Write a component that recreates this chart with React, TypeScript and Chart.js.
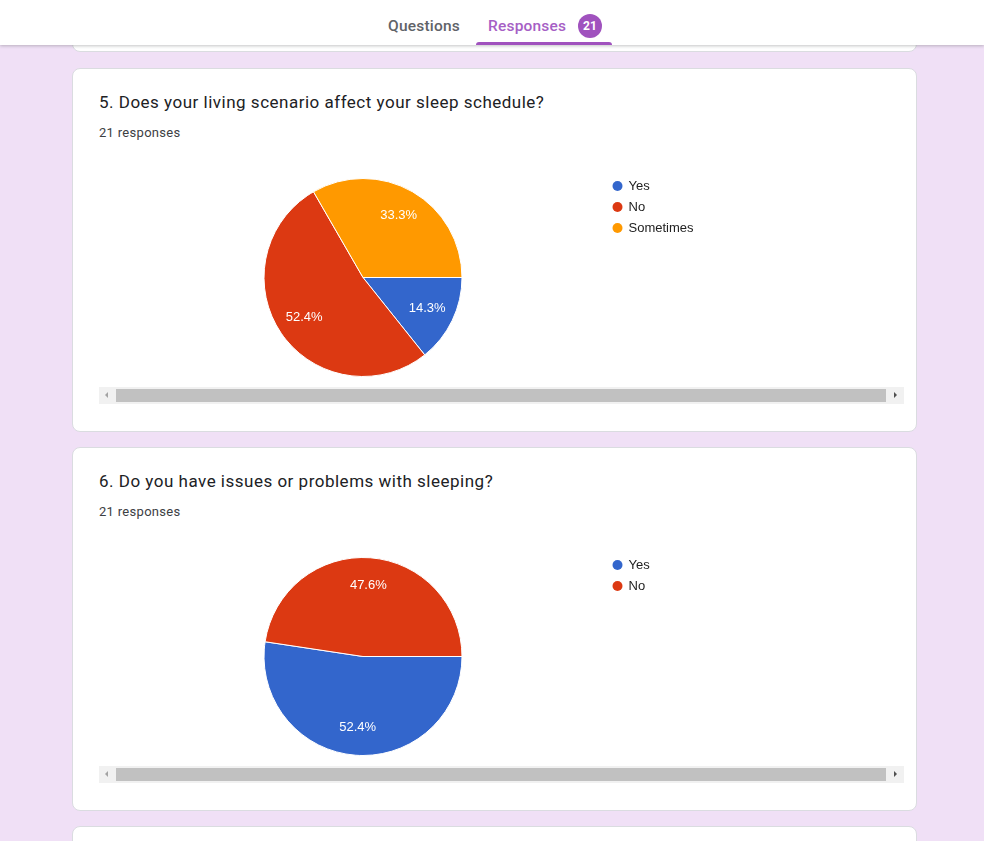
import * as React from 'react';
import {useRef, useEffect} from 'react';
import {Chart, registerables} from 'chart.js';

Chart.register(...registerables);

// question 5
const q5Title = '5. Does your living scenario affect your sleep schedule?';
const q5Labels = ['Yes', 'No', 'Sometimes'];
const q5Counts = [3, 11, 7];

// question 6
const q6Title = '6. Do you have issues or problems with sleeping?';
const q6Labels = ['Yes', 'No'];
const q6Counts = [11, 10];

const responseCount = 21;
const sliceColors = ['#3366cc', '#dc3912', '#ff9900'];

const chartFont = '13px "Liberation Sans", Arial, sans-serif';

// percentage text inside each slice
const sliceLabels = {
  id: 'sliceLabels',
  afterDatasetsDraw(chart: any) {
    const ctx = chart.ctx;
    const values = chart.data.datasets[0].data as number[];
    const total = values.reduce((a, b) => a + b, 0);
    ctx.save();
    ctx.font = chartFont;
    ctx.fillStyle = '#ffffff';
    ctx.textAlign = 'center';
    ctx.textBaseline = 'middle';
    chart.getDatasetMeta(0).data.forEach((arc: any, i: number) => {
      const {x, y, startAngle, endAngle, outerRadius} = arc.getProps(['x', 'y', 'startAngle', 'endAngle', 'outerRadius'], true);
      const mid = (startAngle + endAngle) / 2;
      const r = outerRadius * 0.72;
      ctx.fillText(((values[i] / total) * 100).toFixed(1) + '%', x + Math.cos(mid) * r, y + Math.sin(mid) * r);
    });
    ctx.restore();
  },
};

// legend to the right of the pie, google forms style
const sideLegend = {
  id: 'sideLegend',
  afterDraw(chart: any) {
    const {ctx, chartArea} = chart;
    const colors = chart.data.datasets[0].backgroundColor as string[];
    ctx.save();
    ctx.font = chartFont;
    ctx.textBaseline = 'middle';
    (chart.data.labels as string[]).forEach((label, i) => {
      const cx = chartArea.right + 18.5;
      const cy = chartArea.top + 8 + i * 21;
      ctx.beginPath();
      ctx.arc(cx, cy, 5, 0, Math.PI * 2);
      ctx.fillStyle = colors[i];
      ctx.fill();
      ctx.fillStyle = '#222222';
      ctx.fillText(label, cx + 11, cy);
    });
    ctx.restore();
  },
};

interface PieProps {
  labels: Array<string>,
  counts: Array<number>,
}

function PieChart({labels, counts}: PieProps): JSX.Element {
  const canvasRef = useRef<HTMLCanvasElement>(null);

  useEffect(() => {
    if (!canvasRef.current) return;
    const chart = new Chart(canvasRef.current, {
      type: 'pie',
      data: {
        labels,
        datasets: [{
          data: counts,
          backgroundColor: sliceColors.slice(0, counts.length),
          borderColor: '#ffffff',
          borderWidth: 1,
        }],
      },
      options: {
        responsive: true,
        maintainAspectRatio: false,
        animation: false,
        events: [],
        rotation: 90,
        layout: {padding: {left: 28, right: 304, top: 28, bottom: 11}},
        plugins: {
          legend: {display: false},
          tooltip: {enabled: false},
        },
      },
      plugins: [sliceLabels, sideLegend],
    });
    return () => chart.destroy();
  }, [labels, counts]);

  return (
    <div style={{position: 'absolute', left: 26, top: 81, width: 804, height: 238}}>
      <canvas ref={canvasRef} />
    </div>
  );
}

function ScrollBar(): JSX.Element {
  return (
    <div style={{position: 'absolute', left: 26, top: 318, width: 805, height: 17, background: '#f1f1f1'}}>
      <div style={{position: 'absolute', left: 6, top: 5, width: 0, height: 0,
        borderTop: '3.5px solid transparent', borderBottom: '3.5px solid transparent', borderRight: '3px solid #a3a3a3'}} />
      <div style={{position: 'absolute', left: 17, top: 2, width: 770, height: 13, background: '#c1c1c1'}} />
      <div style={{position: 'absolute', left: 795, top: 5, width: 0, height: 0,
        borderTop: '3.5px solid transparent', borderBottom: '3.5px solid transparent', borderLeft: '3px solid #505050'}} />
    </div>
  );
}

const cardStyle: React.CSSProperties = {
  position: 'absolute', left: 72, width: 843, background: '#ffffff',
  border: '1px solid #dadce0', borderRadius: 8,
};

interface CardProps {
  top: number,
  title: string,
  labels: Array<string>,
  counts: Array<number>,
}

function QuestionCard({top, title, labels, counts}: CardProps): JSX.Element {
  return (
    <div style={{...cardStyle, top, height: 362}}>
      <div style={{position: 'absolute', left: 26, top: 21, fontFamily: 'Roboto, sans-serif', fontSize: 17,
        lineHeight: '24px', letterSpacing: 0.5, color: '#202124', whiteSpace: 'nowrap'}}>{title}</div>
      <div style={{position: 'absolute', left: 26, top: 56, fontFamily: 'Roboto, sans-serif', fontSize: 13,
        lineHeight: '16px', letterSpacing: 0.3, color: '#3c4043'}}>{responseCount} responses</div>
      <PieChart labels={labels} counts={counts} />
      <ScrollBar />
    </div>
  );
}

export default function App(): JSX.Element {
  return (
    <div style={{position: 'fixed', left: 0, top: 0, width: 984, height: 841, overflow: 'hidden', background: '#f0e0f6'}}>
      <div style={{...cardStyle, top: -100, height: 150}} />
      <QuestionCard top={68} title={q5Title} labels={q5Labels} counts={q5Counts} />
      <QuestionCard top={447} title={q6Title} labels={q6Labels} counts={q6Counts} />
      <div style={{...cardStyle, top: 826, height: 100}} />

      <div style={{position: 'absolute', left: 0, top: 0, width: 984, height: 45, background: '#ffffff',
        boxShadow: '0 1px 3px rgba(60,64,67,0.3)', fontFamily: 'Roboto, sans-serif', fontWeight: 500, fontSize: 15.5,
        letterSpacing: 0.2}}>
        <span style={{position: 'absolute', left: 388, top: 16, lineHeight: '20px', color: '#5f6368'}}>Questions</span>
        <span style={{position: 'absolute', left: 488, top: 16, lineHeight: '20px', color: '#a65fc5'}}>Responses</span>
        <span style={{position: 'absolute', left: 578, top: 14, width: 24, height: 24, borderRadius: 12,
          background: '#a052be', color: '#ffffff', fontSize: 12, fontWeight: 700, letterSpacing: 0,
          lineHeight: '24px', textAlign: 'center'}}>{responseCount}</span>
        <div style={{position: 'absolute', left: 476, top: 42, width: 136, height: 3, borderRadius: '3px 3px 0 0', background: '#a052be'}} />
      </div>
    </div>
  );
}
